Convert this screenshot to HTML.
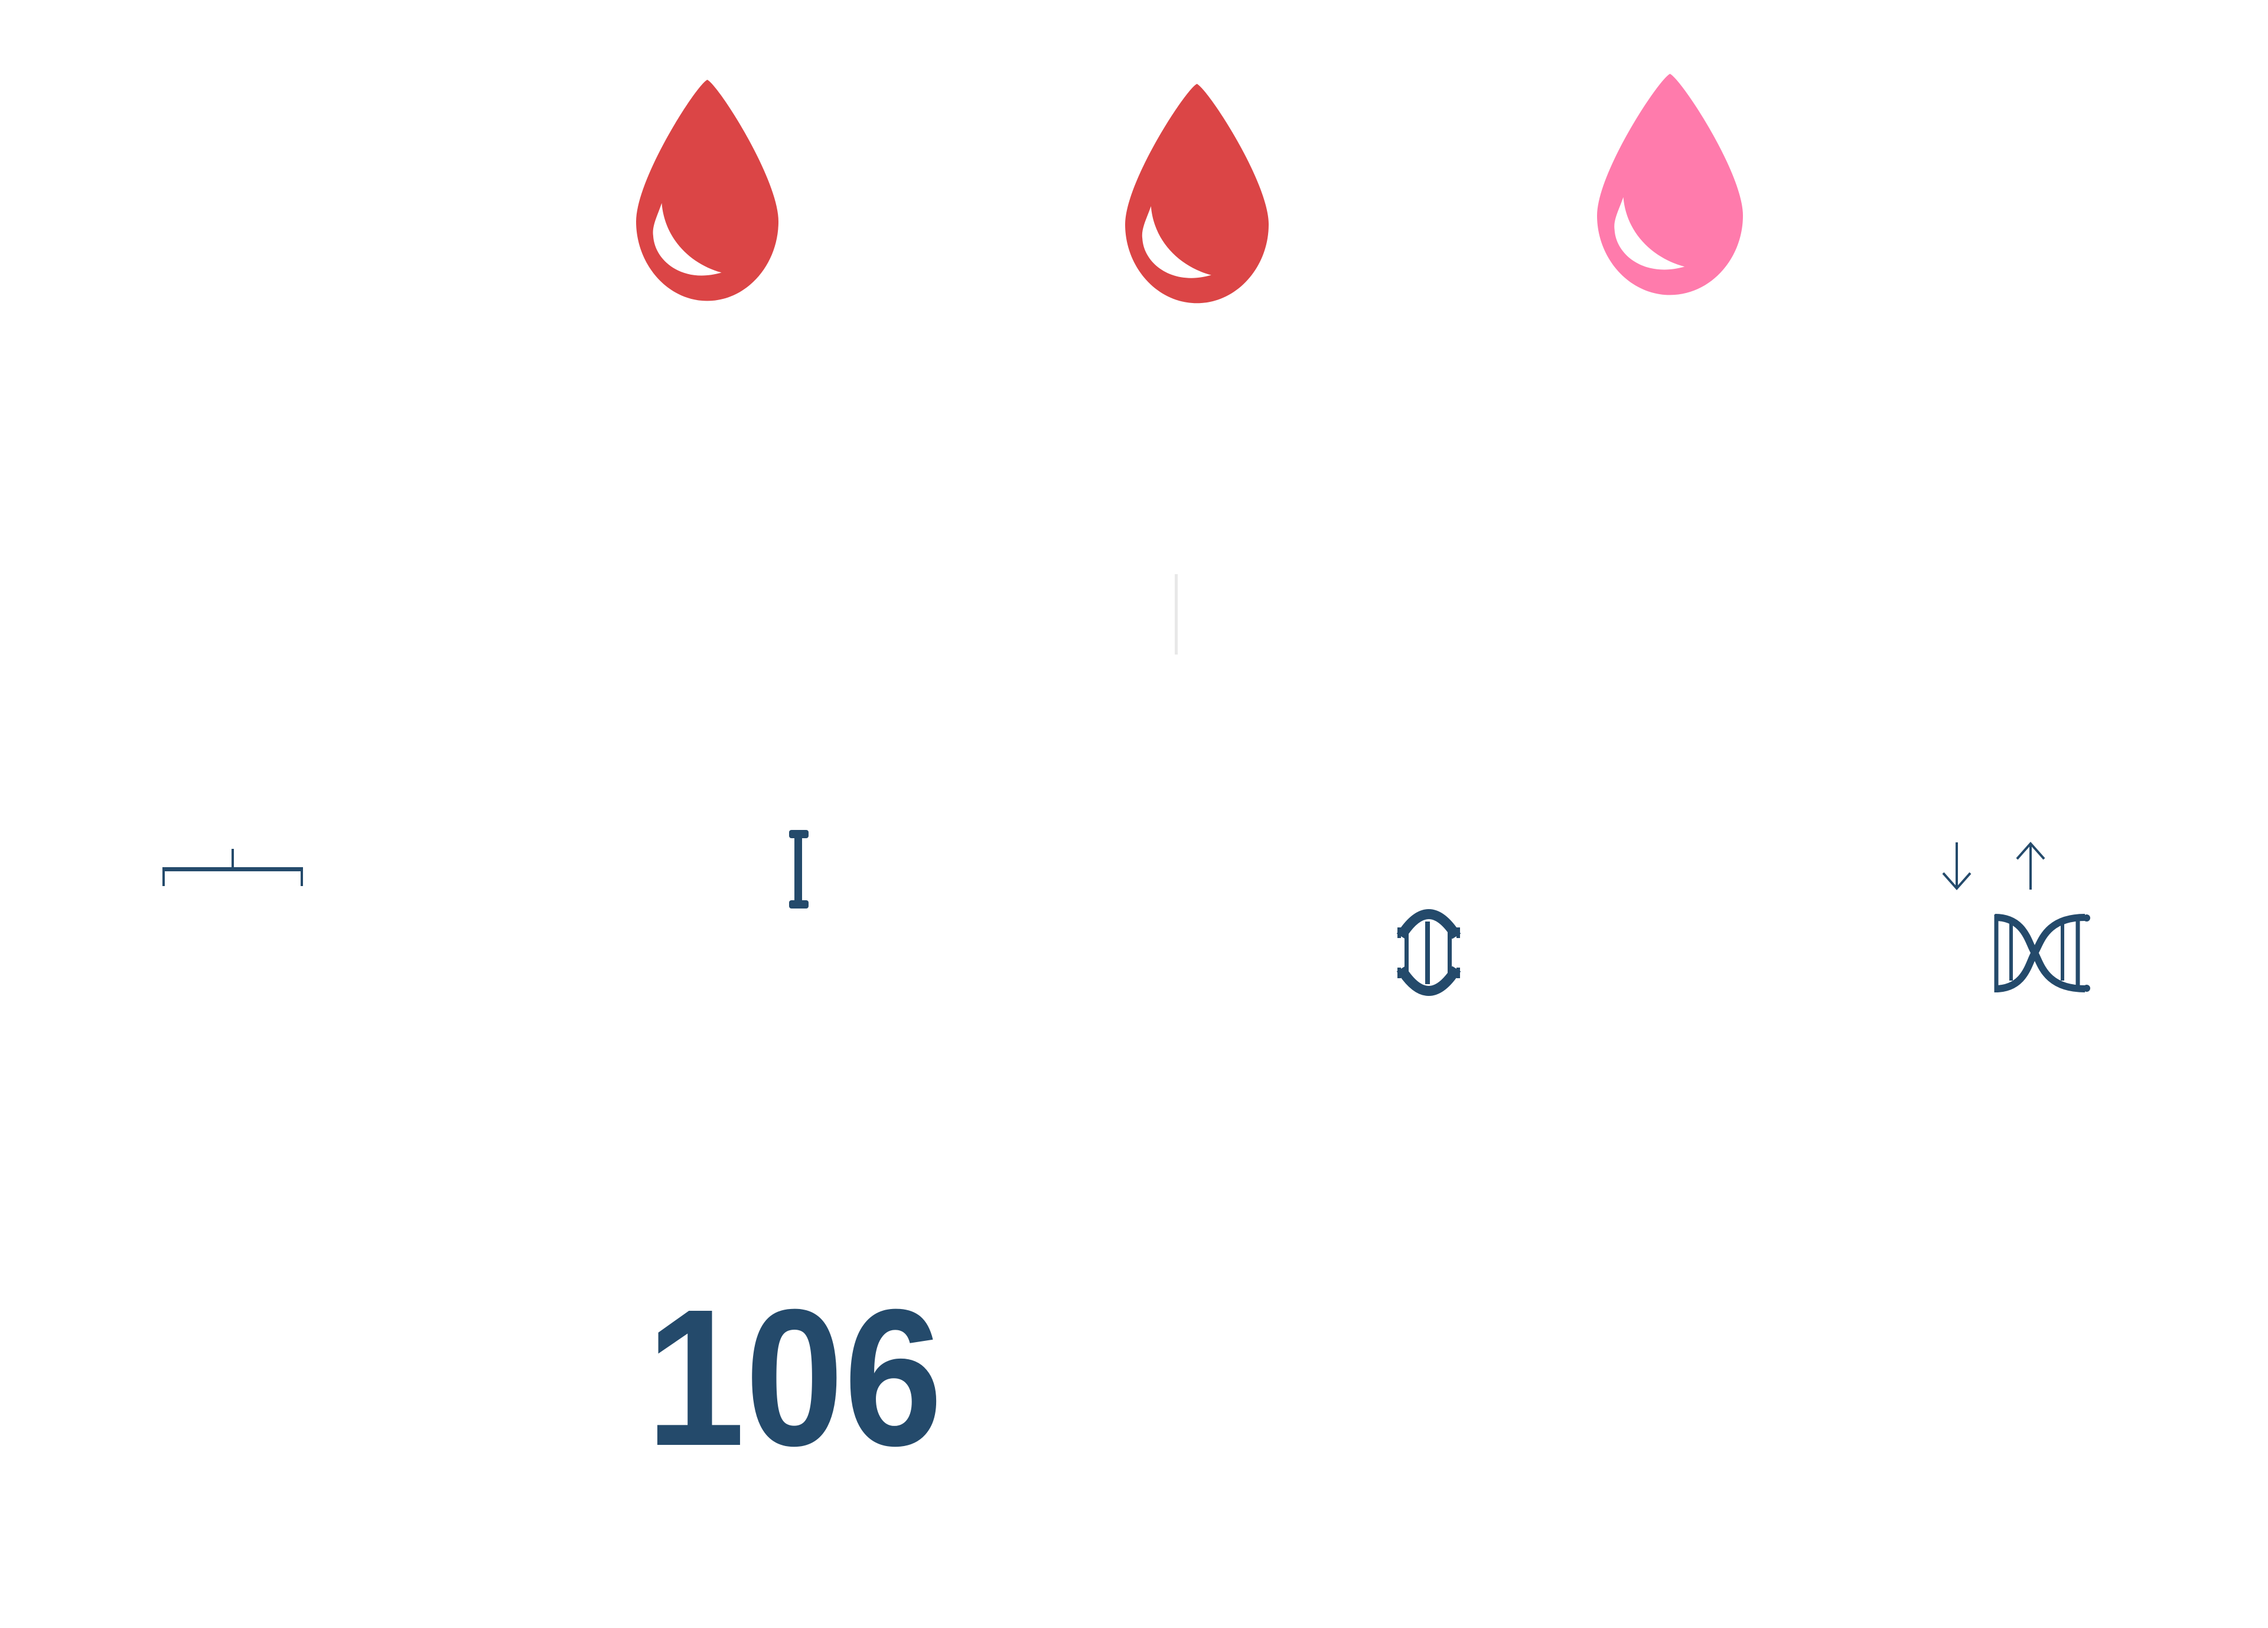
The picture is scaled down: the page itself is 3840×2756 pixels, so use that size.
<!DOCTYPE html>
<html><head><meta charset="utf-8"><style>
html,body{margin:0;padding:0;background:#fff;}
body{width:3840px;height:2756px;position:relative;overflow:hidden;}
svg{position:absolute;left:0;top:0;}
</style></head><body>
<svg width="3840" height="2756" viewBox="0 0 3840 2756" xmlns="http://www.w3.org/2000/svg">
<defs>
<path id="drop" d="M50 0 C42 4 0 70 0 100 C0 130 22 156 50 156 C78 156 100 130 100 100 C100 70 58 4 50 0 Z"/>
<path id="hl" d="M18 87 C15 96 11 103 12 110 C13 128 33 144 60 136 C38 130 20 112 18 87 Z"/>
</defs>
<g transform="translate(1077,135) scale(2.41,2.40)"><use href="#drop" fill="#db4546"/><use href="#hl" fill="#fff"/></g>
<g transform="translate(1905,142) scale(2.43,2.38)"><use href="#drop" fill="#db4546"/><use href="#hl" fill="#fff"/></g>
<g transform="translate(2704,125) scale(2.47,2.40)"><use href="#drop" fill="#ff7bac"/><use href="#hl" fill="#fff"/></g>
<rect x="1989" y="972" width="5" height="136" fill="#e8e8e8"/>
<g fill="#244a6b">
<rect x="275" y="1468" width="238" height="7"/>
<rect x="392" y="1437" width="4" height="33"/>
<rect x="275" y="1468" width="4" height="32"/>
<rect x="509" y="1468" width="4" height="32"/>
<rect x="1345" y="1410" width="13" height="124"/>
<rect x="1336" y="1405" width="33" height="14" rx="4"/>
<rect x="1336" y="1524" width="33" height="14" rx="4"/>
</g>
<g stroke="#244a6b" fill="none">
<path d="M2372 1585 Q2419 1510 2466 1585" stroke-width="17"/>
<path d="M2372 1640 Q2419 1715 2466 1640" stroke-width="17"/>
</g>
<g fill="#244a6b">
<rect x="2366" y="1570" width="6" height="18"/><rect x="2366" y="1638" width="6" height="18"/>
<rect x="2466" y="1570" width="6" height="18"/><rect x="2466" y="1638" width="6" height="18"/>
<rect x="2378" y="1568" width="7" height="90"/>
<rect x="2413" y="1560" width="8" height="106"/>
<rect x="2451" y="1568" width="7" height="90"/>
</g>
<g stroke="#244a6b" stroke-width="4" fill="none">
<path d="M3313 1426 V1504"/><path d="M3290 1478 L3313 1504 L3336 1478"/>
<path d="M3438 1428 V1506"/><path d="M3415 1454 L3438 1428 L3461 1454"/>
</g>
<g stroke="#244a6b" fill="none">
<path d="M3378 1553 C3430 1553 3435 1600 3445 1613 C3455 1630 3462 1674 3530 1674" stroke-width="12"/>
<path d="M3378 1674 C3430 1674 3435 1628 3445 1613 C3455 1598 3462 1553 3530 1553" stroke-width="12"/>
<path d="M3380 1548 V1680" stroke-width="7"/>
<path d="M3405 1563 V1660" stroke-width="6"/>
<path d="M3492 1563 V1660" stroke-width="6"/>
<path d="M3518 1552 V1675" stroke-width="7"/>
</g>
<g fill="#244a6b"><circle cx="3533" cy="1554" r="6"/><circle cx="3533" cy="1673" r="6"/></g>
<text x="1094" y="2446" font-family="Liberation Sans, sans-serif" font-weight="bold" font-size="330" fill="#244a6b" textLength="502" lengthAdjust="spacingAndGlyphs">106</text>
</svg>
</body></html>
